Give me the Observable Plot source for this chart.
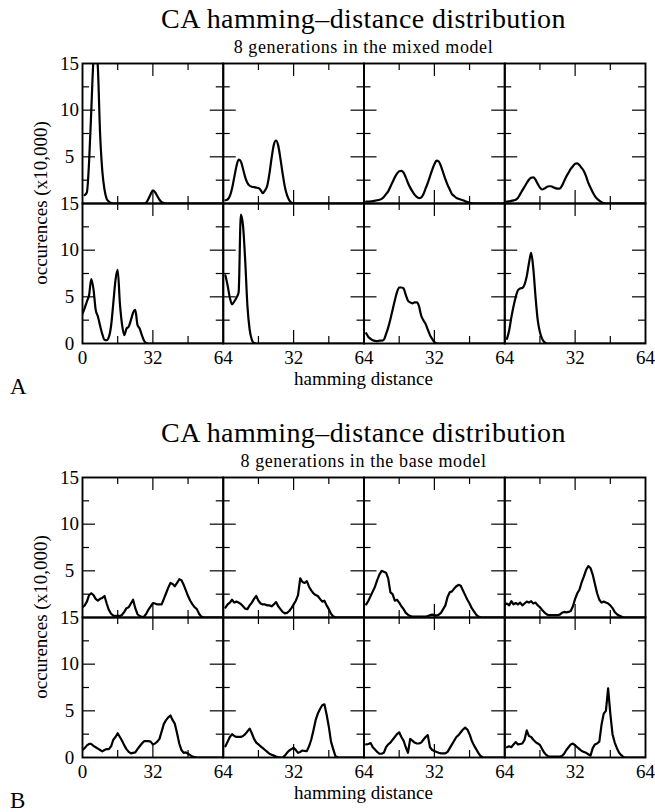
<!DOCTYPE html>
<html><head><meta charset="utf-8">
<script src="https://cdn.jsdelivr.net/npm/d3@7"></script>
<script src="https://cdn.jsdelivr.net/npm/@observablehq/plot@0.6"></script>
<style>
body{margin:0;background:#fff;}
#root{position:relative;width:655px;height:812px;font-family:"Liberation Serif","Times New Roman",serif;color:#000;overflow:hidden;}
.t{position:absolute;white-space:nowrap;line-height:1;}
.plot{position:absolute;left:0;}
</style></head><body><div id="root"></div>
<script>
// ---------- data ----------
const titleText = "CA hamming\u2013distance distribution";
const subtitleMixed = "8 generations in the mixed model";
const subtitleBase = "8 generations in the base model";
const yLabelText = "occurences (x10,000)";
const xLabelText = "hamming distance";

const distance = d3.range(0, 65);           // hamming distance 0..64
const xMajorTicks = [32];
const xMinorTicks = [16, 48];
const yMajorTicks = [5, 10];
const yMinorTicks = [2.5, 7.5, 12.5];
const xTickLabels = [32, 64];
const yTickLabels = [5, 10, 15];
const originLabels = [{col: 0, row: 1, x: 0, y: 0, label: "0"}];

// mixed model (x10,000 occurrences), index = hamming distance
const mixedGen1 = [null,0.9,1.2,4.5,10,15.5,17,14.5,7.5,3.5, 1.5,0.5,0.2,0.05,0,0,0,0,0,0, 0,0,0,0,0,0,0,0,0,0.1, 0.5,1.0,1.4,1.2,0.8,0.4,0.15,0.05,0,0, 0,0,0,0,0,0,0,0,0,0, 0,0,0,0,0,0,0,0,0,0, 0,0,0,0,0];
const mixedGen2 = [null,0.35,0.45,0.8,1.6,2.8,4.0,4.7,4.5,3.7, 2.8,2.2,1.9,1.8,1.75,1.7,1.65,1.45,1.1,1.4, 1.9,3.2,4.9,6.3,6.75,6.2,4.8,3.2,1.8,0.9, 0.35,0.1,0.02,0,0,0,0,0,0,0, 0,0,0,0,0,0,0,0,0,0, 0,0,0,0,0,0,0,0,0,0, 0,0,0,0,0];
const mixedGen3 = [null,0.2,0.2,0.22,0.25,0.3,0.35,0.4,0.5,0.7, 1.0,1.3,1.8,2.3,2.8,3.2,3.45,3.5,3.3,2.8, 2.2,1.7,1.3,0.95,0.7,0.58,0.65,1.0,1.6,2.2, 2.9,3.6,4.2,4.6,4.5,4.0,3.3,2.6,2.0,1.5, 1.0,0.8,0.6,0.5,0.43,0.35,0.25,0.15,0.08,0.03, 0,0,0,0,0,0,0,0,0,0, 0,0,0,0,0];
const mixedGen4 = [null,0.2,0.22,0.28,0.33,0.4,0.6,1.0,1.4,1.8, 2.2,2.55,2.75,2.8,2.55,2.1,1.7,1.5,1.6,1.75, 1.85,1.85,1.75,1.65,1.6,1.6,1.9,2.4,2.9,3.3, 3.7,4.0,4.25,4.3,4.1,3.8,3.45,2.9,2.2,1.7, 1.2,0.8,0.5,0.3,0.15,0.05,0,0,0,0, 0,0,0,0,0,0,0,0,0,0, 0,0,0,0,0];
const mixedGen5 = [3.2,3.8,4.5,5.2,6.9,5.8,3.6,2.9,1.9,1.0, 0.4,0.35,0.7,1.9,4.3,6.8,7.9,4.3,2.0,0.9, 1.6,1.8,2.5,3.3,3.6,2.0,1.6,0.9,0.3,0.05, 0,0,0,0,0,0,0,0,0,0, 0,0,0,0,0,0,0,0,0,0, 0,0,0,0,0,0,0,0,0,0, 0,0,0,0,0];
const mixedGen6 = [null,7.3,6.2,4.9,4.2,4.5,4.9,5.5,13.8,12.6, 8.8,4.0,1.5,0.4,0.05,0,0,0,0,0, 0,0,0,0,0,0,0,0,0,0, 0,0,0,0,0,0,0,0,0,0, 0,0,0,0,0,0,0,0,0,0, 0,0,0,0,0,0,0,0,0,0, 0,0,0,0,0];
const mixedGen7 = [null,1.1,0.7,0.5,0.35,0.28,0.25,0.3,0.3,0.4, 1.0,1.7,2.6,3.6,4.6,5.5,6.0,6.0,5.9,5.2, 4.6,4.4,4.3,4.4,4.4,4.0,3.0,2.5,2.1,1.5, 0.9,0.5,0.15,0.03,0,0,0,0,0,0, 0,0,0,0,0,0,0,0,0,0, 0,0,0,0,0,0,0,0,0,0, 0,0,0,0,0];
const mixedGen8 = [null,0.5,1.4,2.8,4.0,5.0,5.7,5.9,5.95,6.3, 7.2,8.6,9.7,8.0,5.0,2.5,1.2,0.5,0.15,0.03, 0,0,0,0,0,0,0,0,0,0, 0,0,0,0,0,0,0,0,0,0, 0,0,0,0,0,0,0,0,0,0, 0,0,0,0,0,0,0,0,0,0, 0,0,0,0,0];

// base model
const baseGen1 = [1.1,1.3,1.7,2.4,2.6,2.4,2.0,1.8,2.0,2.1, 2.3,1.5,0.8,0.4,0.2,0.15,0.2,0.15,0.3,0.6, 1.0,1.1,1.5,1.9,1.0,0.35,0.15,0.05,0.1,0.4, 0.85,1.2,1.55,1.5,1.4,1.4,1.4,2.0,2.6,3.2, 3.7,3.6,3.35,3.7,4.1,4.0,3.5,2.9,2.3,1.8, 1.4,1.1,0.9,0.4,0.1,0.02,0,0,0,0, 0,0,0,0,0];
const baseGen2 = [null,1.05,1.4,1.6,1.9,1.6,1.7,1.6,1.45,1.2, 0.95,0.9,1.3,1.6,2.0,2.3,1.8,1.5,1.4,1.4, 1.3,1.3,1.2,1.4,1.65,1.2,0.9,0.6,0.45,0.5, 0.7,1.0,1.4,1.8,2.4,4.2,3.8,3.7,3.9,3.3, 2.9,2.6,2.4,2.3,2.0,1.7,1.8,1.3,0.9,0.4, 0.12,0.03,0,0,0,0,0,0,0,0, 0,0,0,0,0];
const baseGen3 = [null,1.4,1.8,2.3,2.8,3.3,4.0,4.6,5.0,4.9, 4.8,4.2,2.7,2.5,1.8,1.9,1.6,1.2,0.9,0.5, 0.3,0.15,0.1,0.1,0.1,0.1,0.1,0.1,0.1,0.15, 0.25,0.3,0.25,0.2,0.3,0.5,0.9,1.3,2.2,2.7, 2.8,3.1,3.35,3.5,3.4,2.9,2.4,1.9,1.5,1.0, 0.65,0.3,0.1,0.02,0,0,0,0,0,0, 0,0,0,0,0];
const baseGen4 = [1.4,1.5,1.3,1.75,1.4,1.55,1.4,1.6,1.3,1.5, 1.7,1.6,1.75,1.5,1.6,1.3,1.1,0.8,0.55,0.35, 0.25,0.25,0.25,0.25,0.25,0.3,0.5,0.6,0.55,0.6, 0.7,1.2,2.0,2.6,3.0,3.8,4.4,5.1,5.5,5.3, 4.6,3.6,2.6,1.9,1.6,1.7,1.6,1.5,1.3,1.0, 0.6,0.35,0.2,0.1,0,0,0,0,0,0, 0,0,0,0,0];
const baseGen5 = [0.8,1.0,1.3,1.45,1.45,1.25,1.1,0.95,0.8,0.65, 0.8,0.9,0.9,1.2,1.9,2.2,2.6,2.2,1.8,1.3, 0.9,0.6,0.45,0.5,0.55,0.9,1.2,1.5,1.75,1.75, 1.75,1.7,1.4,1.5,1.7,2.0,2.8,3.6,4.0,4.3, 4.5,4.0,3.6,2.6,1.5,0.8,0.5,0.55,0.4,0.25, 0.1,0.05,0,0,0,0,0,0,0,0, 0,0,0,0,0];
const baseGen6 = [null,1.2,1.7,2.2,2.5,2.3,2.2,2.2,2.2,2.3, 2.5,2.8,3.1,2.6,2.0,1.6,1.4,1.2,1.0,0.8, 0.6,0.4,0.3,0.2,0.1,0.05,0.02,0,0.2,0.5, 0.75,0.9,1.05,0.8,0.5,0.6,0.75,0.7,0.68,1.2, 1.9,2.9,4.0,4.7,5.2,5.6,5.7,4.6,3.3,1.7, 0.9,0.15,0.02,0,0,0,0,0,0,0, 0,0,0,0,0];
const baseGen7 = [null,1.4,1.45,1.55,1.1,0.85,0.6,0.4,0.4,0.5, 1.1,1.4,1.6,1.9,2.2,2.5,2.7,2.2,1.8,1.1, 0.5,2.0,1.8,1.6,1.5,1.5,1.6,1.9,2.2,2.4, 1.1,0.8,0.7,0.6,0.5,0.45,0.45,0.45,0.6,1.0, 1.4,1.8,2.2,2.4,2.7,3.0,3.2,3.0,2.5,1.8, 1.3,0.9,0.5,0.15,0.03,0,0,0,0,0, 0,0,0,0,0];
const baseGen8 = [null,1.1,1.2,1.1,1.4,1.65,1.4,1.45,1.5,1.9, 2.9,2.3,2.2,1.9,1.65,1.5,1.35,0.9,0.5,0.25, 0.1,0.1,0.1,0.1,0.1,0.1,0.15,0.4,0.8,1.1, 1.4,1.5,1.3,1.1,0.9,0.7,0.6,0.5,0.35,0.2, 1.0,1.4,1.5,1.7,3.5,4.7,5.0,7.4,4.7,2.5, 1.6,1.0,0.5,0.25,0.05,0,0,0,0,0, 0,0,0,0,0];

const mixedSeries = [mixedGen1, mixedGen2, mixedGen3, mixedGen4, mixedGen5, mixedGen6, mixedGen7, mixedGen8];
const baseSeries = [baseGen1, baseGen2, baseGen3, baseGen4, baseGen5, baseGen6, baseGen7, baseGen8];

// ---------- layout ----------
const FONT = "'Liberation Serif','Times New Roman',serif";
const W = 655, H = 340, MT = 8, MB = 52, ML = 82, MR = 10;
const facetW = (W - ML - MR) / 4, facetH = (H - MT - MB) / 2;
const MAJOR = 13, MINOR = 7;

function makePanel(series, curve) {
  const table = [];
  series.forEach((vals, i) => vals.forEach((v, j) =>
    table.push({col: i % 4, row: Math.floor(i / 4), d: distance[j], v})));
  const tickStyle = {stroke: "#000", strokeWidth: 1.2};
  return Plot.plot({
    width: W, height: H,
    marginTop: MT, marginBottom: MB, marginLeft: ML, marginRight: MR,
    style: {fontFamily: FONT, fontSize: "19px", color: "#000", background: "transparent", overflow: "visible"},
    x: {domain: [0, 64], axis: null},
    y: {domain: [0, 15], axis: null},
    fx: {domain: [0, 1, 2, 3], padding: 0, axis: null, round: false},
    fy: {domain: [0, 1], padding: 0, axis: null, round: false},
    marks: [
      // inward ticks on all four sides of every small panel
      Plot.tickX(xMajorTicks, {...tickStyle, insetTop: facetH - MAJOR}),
      Plot.tickX(xMinorTicks, {...tickStyle, insetTop: facetH - MINOR}),
      Plot.tickX(xMajorTicks, {...tickStyle, insetBottom: facetH - MAJOR}),
      Plot.tickX(xMinorTicks, {...tickStyle, insetBottom: facetH - MINOR}),
      Plot.tickY(yMajorTicks, {...tickStyle, insetRight: facetW - MAJOR}),
      Plot.tickY(yMinorTicks, {...tickStyle, insetRight: facetW - MINOR}),
      Plot.tickY(yMajorTicks, {...tickStyle, insetLeft: facetW - MAJOR}),
      Plot.tickY(yMinorTicks, {...tickStyle, insetLeft: facetW - MINOR}),
      Plot.line(table, {x: "d", y: "v", fx: "col", fy: "row", curve, stroke: "#000", strokeWidth: 2.2, clip: true}),
      Plot.frame({stroke: "#000", strokeWidth: 1.9}),
      Plot.axisX({ticks: xTickLabels, anchor: "bottom", facetAnchor: "bottom", tickSize: 0, tickPadding: 7, label: null, fontSize: 19}),
      Plot.axisY({ticks: yTickLabels, anchor: "left", facetAnchor: "left", tickSize: 0, tickPadding: 13, textAnchor: "middle", label: null, fontSize: 19}),
      Plot.text(originLabels, {fx: "col", fy: "row", x: "x", y: "y", text: "label", dx: -13, textAnchor: "middle", lineAnchor: "middle", fontSize: 19}),
      Plot.text(originLabels, {fx: "col", fy: "row", x: "x", y: "y", text: "label", dy: 7, lineAnchor: "top", fontSize: 19})
    ]
  });
}

const root = document.getElementById("root");
function addText(txt, css) {
  const d = document.createElement("div");
  d.className = "t";
  d.textContent = txt;
  Object.assign(d.style, css);
  root.appendChild(d);
  return d;
}

function block(offset, subtitle, letter, series, curve) {
  addText(titleText, {left: ML + "px", width: (W - ML - MR) + "px", textAlign: "center", top: (offset + 4.5) + "px", fontSize: "28px", letterSpacing: "0.4px"});
  addText(subtitle, {left: ML + "px", width: (W - ML - MR) + "px", textAlign: "center", top: (offset + 38) + "px", fontSize: "18px", letterSpacing: "0.6px"});
  const svg = makePanel(series, curve);
  const wrap = document.createElement("div");
  wrap.className = "plot";
  wrap.style.top = (offset + 55) + "px";
  wrap.appendChild(svg);
  root.appendChild(wrap);
  addText(xLabelText, {left: ML + "px", width: (W - ML - MR) + "px", textAlign: "center", top: (offset + 369) + "px", fontSize: "19px"});
  addText(letter, {left: "10px", top: (offset + 377.5) + "px", fontSize: "23px", lineHeight: "18px"});
  addText(yLabelText, {left: "40px", top: (offset + 203) + "px", fontSize: "19px", transform: "translate(-50%,-50%) rotate(-90deg)"});
}

block(0, subtitleMixed, "A", mixedSeries, "monotone-x");
block(414, subtitleBase, "B", baseSeries, "linear");
</script>
</body></html>
